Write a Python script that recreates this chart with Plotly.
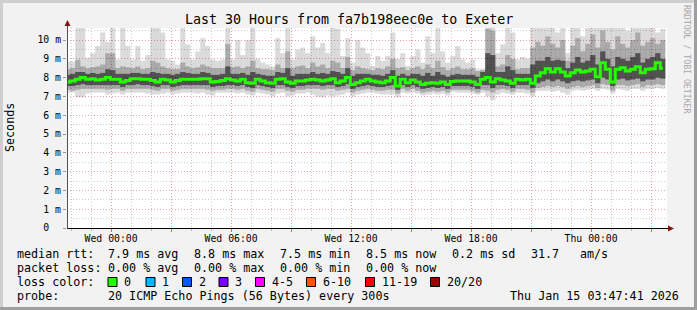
import plotly.graph_objects as go
from datetime import datetime, timedelta

# ---------------- data ----------------
median = [7.77,7.82,7.91,8.00,7.91,7.94,7.87,7.91,8.00,7.91, 7.91,7.77,7.85,7.94,7.94,7.91,7.91,7.85,7.77,7.91,
          7.87,7.77,7.85,7.91,7.91,7.91,7.91,7.94,7.94,7.77, 7.80,7.85,7.94,7.87,7.82,7.91,7.73,7.70,7.91,7.82,
          7.73,7.70,7.91,7.94,7.77,7.70,7.82,7.82,7.87,7.91, 7.87,7.82,7.87,7.94,7.73,7.82,8.00,7.64,7.73,7.82,
          7.91,7.82,7.77,7.73,7.82,8.00,7.55,7.91,7.73,7.87, 7.77,7.64,7.70,7.73,7.70,7.77,7.64,7.80,7.82,7.82,
          7.82,7.77,7.64,7.91,8.00,7.77,7.94,7.87,7.82,7.70, 7.91,7.87,7.91,7.70,8.08,8.26,8.47,8.30,8.47,8.30,
          8.08,8.26,8.40,8.30,8.35,8.44,8.05,8.79,8.44,7.77, 8.44,8.53,8.35,8.44,8.58,8.26,8.44,8.47,8.79,8.50]

p_max = [8.87,8.87,10.7,10.7,9.06,9.3,9.68,10.4,9.9,10.7, 8.97,10.7,9.68,8.97,9.68,8.9,9.2,10.7,10.7,10.4,
         8.97,8.9,8.7,10.7,9.77,8.97,9.4,10.1,9.68,8.97, 8.9,8.97,10.7,8.97,10.0,9.2,10.0,10.7,9.0,8.8,
         8.7,8.6,10.1,9.3,10.7,8.97,9.5,9.6,9.3,10.2, 9.6,9.85,9.3,10.7,10.6,9.15,10.1,8.8,10.0,9.6,
         9.3,8.62,9.15,8.9,9.15,10.4,9.0,9.3,8.62,9.15, 9.5,8.8,10.2,9.3,10.7,9.4,8.8,9.15,9.68,8.97,
         8.8,8.97,8.45,8.45,10.7,10.7,9.3,9.77,10.7,10.4, 8.97,9.1,9.0,10.7,10.7,10.7,10.7,10.7,10.4,10.7,
         9.3,10.7,10.7,10.2,10.7,10.7,10.7,10.7,10.7,10.7, 10.7,10.7,10.5,10.7,10.7,10.7,10.7,10.7,10.4,10.6]

p90 = [8.45,8.5,8.95,8.6,8.5,8.55,8.6,8.7,9.3,9.3, 8.5,8.6,8.55,8.5,8.6,8.45,8.5,8.9,8.8,8.6,
       8.5,8.45,8.45,8.8,8.6,8.5,8.55,8.7,8.6,8.5, 8.5,8.5,9.8,8.55,8.6,8.5,8.6,8.9,8.5,8.45,
       8.45,8.4,8.7,8.5,9.4,8.5,8.6,8.65,8.5,8.8, 8.6,8.7,8.5,8.9,8.8,8.5,9.1,8.4,8.6,8.5,
       8.45,8.4,8.5,8.45,8.6,9.0,8.5,8.55,8.4,8.5, 8.6,8.45,8.7,8.5,8.9,8.55,8.4,8.5,8.6,8.45,
       8.45,8.5,8.35,8.4,10.6,10.5,8.6,8.7,9.2,9.0, 8.45,8.5,8.5,9.6,9.9,9.7,10.2,9.8,9.6,10.0,
       8.9,9.7,10.1,9.4,9.8,10.3,9.6,10.5,9.9,9.5, 10.2,9.8,9.6,10.0,10.4,9.7,9.9,10.1,9.8,10.0]

p75 = [8.15,8.2,8.3,8.3,8.2,8.25,8.2,8.25,8.45,8.4, 8.2,8.2,8.2,8.25,8.25,8.2,8.2,8.3,8.25,8.2,
       8.2,8.15,8.2,8.3,8.25,8.2,8.2,8.3,8.25,8.15, 8.15,8.2,8.6,8.2,8.2,8.25,8.15,8.3,8.2,8.15,
       8.1,8.1,8.3,8.25,8.5,8.1,8.2,8.2,8.2,8.3, 8.2,8.25,8.2,8.35,8.3,8.2,8.5,8.1,8.2,8.2,
       8.2,8.15,8.15,8.1,8.2,8.4,8.1,8.2,8.1,8.2, 8.2,8.1,8.25,8.1,8.3,8.15,8.05,8.15,8.2,8.15,
       8.15,8.15,8.05,8.3,9.3,9.2,8.3,8.3,8.6,8.4, 8.2,8.2,8.2,8.7,8.9,8.9,9.1,8.9,8.95,8.9,
       8.5,8.8,9.1,8.8,8.9,9.2,8.7,9.4,9.0,8.6, 9.1,9.0,8.9,9.1,9.3,8.8,9.0,9.1,9.3,9.0]

p25 = [7.55,7.55,7.6,7.65,7.6,7.6,7.6,7.6,7.6,7.6, 7.6,7.5,7.6,7.6,7.65,7.6,7.6,7.55,7.5,7.6,
       7.6,7.5,7.55,7.6,7.6,7.6,7.6,7.6,7.6,7.5, 7.55,7.55,7.6,7.6,7.55,7.6,7.5,7.45,7.6,7.55,
       7.5,7.45,7.6,7.6,7.5,7.45,7.55,7.55,7.6,7.6, 7.6,7.55,7.6,7.6,7.5,7.55,7.65,7.4,7.5,7.55,
       7.6,7.55,7.5,7.5,7.55,7.6,7.35,7.6,7.5,7.6, 7.5,7.4,7.45,7.5,7.45,7.5,7.4,7.55,7.55,7.55,
       7.55,7.5,7.4,7.6,7.6,7.45,7.6,7.6,7.55,7.45, 7.6,7.6,7.6,7.45,7.7,7.8,7.9,7.8,7.9,7.8,
       7.7,7.8,7.85,7.8,7.85,7.9,7.7,8.0,7.9,7.55, 7.9,7.95,7.85,7.9,7.95,7.8,7.9,7.9,8.0,7.95]

p10 = [7.35,7.3,7.35,7.4,7.4,7.4,7.4,7.4,7.35,7.4, 7.4,7.3,7.4,7.4,7.4,7.4,7.4,7.35,7.3,7.4,
       7.4,7.3,7.35,7.4,7.4,7.4,7.4,7.4,7.35,7.3, 7.35,7.35,7.4,7.4,7.35,7.4,7.3,7.25,7.4,7.35,
       7.3,7.25,7.4,7.4,7.3,7.25,7.35,7.35,7.4,7.4, 7.4,7.35,7.4,7.4,7.3,7.35,7.4,7.2,7.3,7.35,
       7.4,7.35,7.3,7.3,7.35,7.35,7.15,7.4,7.3,7.4, 7.3,7.2,7.25,7.3,7.25,7.3,7.2,7.35,7.35,7.35,
       7.35,7.3,7.2,7.35,7.3,7.2,7.35,7.4,7.35,7.25, 7.4,7.4,7.35,7.2,7.45,7.5,7.55,7.5,7.55,7.5,
       7.4,7.5,7.55,7.5,7.55,7.6,7.45,7.65,7.6,7.3, 7.6,7.6,7.55,7.6,7.65,7.5,7.6,7.6,7.65,7.6]

p_min = [7.2,7.2,6.95,6.95,7.15,7.2,7.2,7.2,7.1,7.15, 7.2,7.1,7.2,7.2,7.2,7.2,7.15,7.1,7.1,7.15,
         7.2,7.1,7.15,7.2,7.2,7.2,7.15,7.2,7.1,7.05, 7.2,7.2,7.2,7.2,7.15,7.2,7.1,7.05,7.2,7.15,
         7.1,7.0,7.15,7.2,7.0,7.05,7.15,7.15,7.2,7.1, 7.0,6.95,7.05,7.0,7.05,7.1,7.2,7.0,7.1,7.15,
         7.2,7.2,7.15,7.1,7.1,7.1,6.95,7.2,7.15,7.2, 7.15,7.05,7.1,7.15,7.1,7.15,7.05,7.25,7.2,7.2,
         7.2,7.15,7.1,7.2,7.0,6.8,7.1,7.2,7.15,7.1, 7.2,7.2,7.15,7.0,7.3,7.3,7.3,7.25,7.3,7.2,
         7.1,7.3,7.35,7.3,7.35,7.4,7.3,7.4,7.35,7.15, 7.4,7.35,7.3,7.4,7.4,7.3,7.4,7.4,7.45,7.4]

first_sample = datetime(2026, 1, 13, 21, 50)
step_minutes = 15
times = [first_sample + timedelta(minutes=step_minutes * i) for i in range(len(median))]

x_tick_vals = ["2026-01-14 00:00", "2026-01-14 03:00", "2026-01-14 06:00", "2026-01-14 09:00",
               "2026-01-14 12:00", "2026-01-14 15:00", "2026-01-14 18:00", "2026-01-14 21:00",
               "2026-01-15 00:00", "2026-01-15 03:00"]
x_tick_text = ["Wed 00:00", "", "Wed 06:00", "", "Wed 12:00", "", "Wed 18:00", "", "Thu 00:00", ""]
y_tick_vals = [0, 1, 2, 3, 4, 5, 6, 7, 8, 9, 10]
y_tick_text = ["0\u00a0\u00a0", "1 m", "2 m", "3 m", "4 m", "5 m", "6 m", "7 m", "8 m", "9 m", "10 m"]

title_text = "Last 30 Hours from fa7b198eec0e to Exeter"
rtt_stats = ["7.9 ms avg", "8.8 ms max", "7.5 ms min", "8.5 ms now", "0.2 ms sd", "31.7", "am/s"]
loss_stats = ["0.00 % avg", "0.00 % max", "0.00 % min", "0.00 % now"]
loss_labels = ["0", "1", "2", "3", "4-5", "6-10", "11-19", "20/20"]
loss_colors = ["#26ff00", "#00b8ff", "#0059ff", "#7e00ff", "#ff00ff", "#ff5500", "#ff0000", "#a10000"]
probe_text = "20 ICMP Echo Pings (56 Bytes) every 300s"
stamp_text = "Thu Jan 15 03:47:41 2026"

# ---------------- layout geometry (pixels) ----------------
W, H = 697, 310
L, R, T, B = 67, 30, 28, 82
PW, PH = W - L - R, H - T - B
FONT = "DejaVu Sans Mono"


def px(x):
    return (x - L) / PW


def py(y):
    return (T + PH - y) / PH


fig = go.Figure()

bar_w = step_minutes * 60 * 1000 * 1.03
bands = [(p_min, p_max, "rgba(0,0,0,0.14)"),
         (p10, p90, "rgba(0,0,0,0.22)"),
         (p25, p75, "rgba(0,0,0,0.52)")]
for lo, hi, col in bands:
    fig.add_trace(go.Bar(x=times, base=lo, y=[h - l for l, h in zip(lo, hi)], width=bar_w,
                         marker=dict(color=col, line=dict(width=0)), hoverinfo="skip", showlegend=False))

fig.add_trace(go.Scatter(x=times, y=median, mode="lines", line=dict(color="#26ff00", width=3, shape="hvh"),
                         showlegend=False, hoverinfo="skip"))

start = datetime(2026, 1, 13, 21, 47, 41)
end = datetime(2026, 1, 15, 3, 47, 41)

fig.update_layout(
    width=W, height=H, margin=dict(l=L, r=R, t=T, b=B, pad=0),
    paper_bgcolor="#f2f2f2", plot_bgcolor="#ffffff",
    barmode="overlay", showlegend=False,
    font=dict(family=FONT, size=10, color="#000000"),
    xaxis=dict(type="date", range=[start, end], tickmode="array", tickvals=x_tick_vals, ticktext=x_tick_text,
               showgrid=True, gridcolor="#f0a0a0", griddash="1px,2px", gridwidth=1,
               ticks="outside", ticklen=3, tickcolor="#e06060", zeroline=False, showline=False,
               ticklabelstandoff=-2,
               tickfont=dict(family=FONT, size=9.8, color="#000"),
               minor=dict(dtick=3600000, tick0="2026-01-14 00:00", showgrid=True, gridcolor="#cccccc",
                          griddash="1px,2px", ticks="outside", ticklen=2, tickcolor="#bbbbbb")),
    yaxis=dict(range=[0, 10.64], tickmode="array", tickvals=y_tick_vals, ticktext=y_tick_text,
               showgrid=True, gridcolor="#f0a0a0", griddash="1px,2px", gridwidth=1,
               ticks="outside", ticklen=3, tickcolor="#999999", zeroline=False, showline=False,
               tickfont=dict(family=FONT, size=9.8, color="#000"),
               minor=dict(dtick=0.5, tick0=0, showgrid=True, gridcolor="#cccccc", griddash="1px,2px")),
)

shapes = []
# frame
shapes.append(dict(type="rect", xref="paper", yref="paper", x0=px(0), x1=px(W), y0=py(0), y1=py(3),
                   fillcolor="#cfcfcf", line=dict(width=0), layer="above"))
shapes.append(dict(type="rect", xref="paper", yref="paper", x0=px(0), x1=px(3), y0=py(0), y1=py(H),
                   fillcolor="#cfcfcf", line=dict(width=0), layer="above"))
shapes.append(dict(type="rect", xref="paper", yref="paper", x0=px(0), x1=px(W), y0=py(H - 3), y1=py(H),
                   fillcolor="#9e9e9e", line=dict(width=0), layer="above"))
shapes.append(dict(type="rect", xref="paper", yref="paper", x0=px(W - 3), x1=px(W), y0=py(0), y1=py(H),
                   fillcolor="#9e9e9e", line=dict(width=0), layer="above"))
# axes
shapes.append(dict(type="line", xref="paper", yref="paper", x0=px(67), x1=px(669), y0=py(228.5), y1=py(228.5),
                   line=dict(color="#000000", width=1), layer="above"))
shapes.append(dict(type="line", xref="paper", yref="paper", x0=px(67.5), x1=px(67.5), y0=py(228.5), y1=py(24),
                   line=dict(color="#505050", width=1), layer="above"))
shapes.append(dict(type="path", xref="paper", yref="paper",
                   path=f"M {px(67.5)} {py(20)} L {px(64.5)} {py(26)} L {px(70.5)} {py(26)} Z",
                   fillcolor="#8b1010", line=dict(width=0), layer="above"))
shapes.append(dict(type="path", xref="paper", yref="paper",
                   path=f"M {px(674)} {py(228.5)} L {px(668)} {py(225.5)} L {px(668)} {py(231.5)} Z",
                   fillcolor="#8b1010", line=dict(width=0), layer="above"))

ann = []


def text(t, x, y, size=11.7, xanchor="left", color="#000000", angle=0):
    ann.append(dict(text=t, x=px(x), y=py(y), xref="paper", yref="paper", xanchor=xanchor, yanchor="middle",
                    showarrow=False, textangle=angle, borderpad=0,
                    font=dict(family=FONT, size=size, color=color)))


text(title_text, 348.5, 19, size=13.3, xanchor="center")
text("Seconds", 10, 128, size=11.7, xanchor="center", angle=-90)
text("RRDTOOL / TOBI OETIKER", 687, 59, size=8.2, xanchor="center", color="#a8a8a8", angle=90)

y1, y2, y3, y4 = 254, 268, 282, 296
text("median rtt:", 16, y1)
for s, x in zip(rtt_stats, [107, 193, 279, 365, 451, 530, 579]):
    text(s, x, y1)
text("packet loss:", 16, y2)
for s, x in zip(loss_stats, [107, 193, 279, 365]):
    text(s, x, y2)
text("loss color:", 16, y3)
box_x = [108, 146, 182.5, 219, 255.5, 306.5, 365.5, 430.5]
for lab, col, bx in zip(loss_labels, loss_colors, box_x):
    shapes.append(dict(type="rect", xref="paper", yref="paper", x0=px(bx), x1=px(bx + 9), y0=py(y3 - 4.5),
                       y1=py(y3 + 4.5), fillcolor=col, line=dict(color="#000000", width=1), layer="above"))
    text(lab, bx + 15, y3)
text("probe:", 16, y4)
text(probe_text, 107, y4)
text(stamp_text, 680, y4, xanchor="right")

fig.update_layout(shapes=shapes, annotations=ann)
fig.write_html("out.html")
